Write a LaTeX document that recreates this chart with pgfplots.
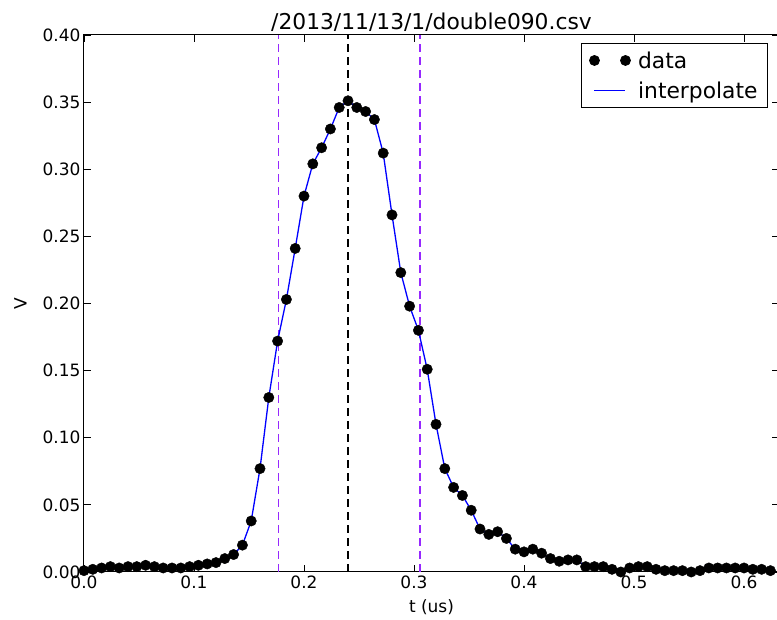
\documentclass[border=0pt]{standalone}
\usepackage{pgfplots}
\pgfplotsset{compat=1.18}
\usepackage{pgfplotstable}
\usepackage{fontspec}
\setmainfont{DejaVu Sans}
\definecolor{fwhm}{RGB}{150,40,255}
\newcommand{\bigf}{\fontsize{17}{20}\selectfont}
\newcommand{\largef}{\fontsize{21.8}{25}\selectfont}
\pgfplotstableread{
t V
0.000 0.001
0.008 0.002
0.016 0.003
0.024 0.004
0.032 0.003
0.040 0.004
0.048 0.004
0.056 0.005
0.064 0.004
0.072 0.003
0.080 0.003
0.088 0.003
0.096 0.004
0.104 0.005
0.112 0.006
0.120 0.007
0.128 0.010
0.136 0.013
0.144 0.020
0.152 0.038
0.160 0.077
0.168 0.130
0.176 0.172
0.184 0.203
0.192 0.241
0.200 0.280
0.208 0.304
0.216 0.316
0.224 0.330
0.232 0.346
0.240 0.351
0.248 0.346
0.256 0.343
0.264 0.337
0.272 0.312
0.280 0.266
0.288 0.223
0.296 0.198
0.304 0.180
0.312 0.151
0.320 0.110
0.328 0.077
0.336 0.063
0.344 0.057
0.352 0.046
0.360 0.032
0.368 0.028
0.376 0.030
0.384 0.025
0.392 0.017
0.400 0.015
0.408 0.017
0.416 0.014
0.424 0.010
0.432 0.008
0.440 0.009
0.448 0.009
0.456 0.004
0.464 0.004
0.472 0.004
0.480 0.002
0.488 0.000
0.496 0.003
0.504 0.004
0.512 0.004
0.520 0.002
0.528 0.001
0.536 0.001
0.544 0.001
0.552 0.000
0.560 0.001
0.568 0.003
0.576 0.003
0.584 0.003
0.592 0.003
0.600 0.003
0.608 0.002
0.616 0.002
0.624 0.001
}\datatable
\begin{document}
\begin{tikzpicture}
\begin{axis}[
  at={(0,0)}, anchor=south west,
  scale only axis, width=695pt, height=537pt,
  xmin=0, xmax=0.6318, ymin=0, ymax=0.4,
  font=\bigf,
  /pgf/number format/assume math mode=true,
  xtick={0,0.1,...,0.6},
  ytick={0,0.05,...,0.40},
  xticklabel style={font=\bigf, /pgf/number format/.cd, fixed, fixed zerofill, precision=1},
  yticklabel style={font=\bigf, /pgf/number format/.cd, fixed, fixed zerofill, precision=2},
  scaled ticks=false,
  tick align=inside,
  major tick length=7pt,
  tick style={black, line width=0.8pt},
  axis line style={line width=1pt},
  title={/2013/11/13/1/double090.csv},
  title style={font=\largef, yshift=-6pt},
  xlabel={t (us)},
  ylabel={V},
  label style={font=\bigf},
  xlabel style={yshift=-4pt},
  ylabel style={yshift=9pt},
  legend style={at={(rel axis cs:0.984,0.985)}, anchor=north east,
    draw=black, line width=0.8pt, font=\largef,
    nodes={font=\largef, inner ysep=2pt},
    row sep=8pt, inner xsep=8pt, inner ysep=6pt},
  legend cell align=left,
]
\addplot[fwhm, dash pattern=on 8pt off 5pt, line width=1.5pt, forget plot] coordinates {(0.177,0) (0.177,0.4)};
\addplot[black, dash pattern=on 8pt off 5pt, line width=1.5pt, forget plot] coordinates {(0.240,0) (0.240,0.4)};
\addplot[fwhm, dash pattern=on 8pt off 5pt, line width=1.5pt, forget plot] coordinates {(0.3055,0) (0.3055,0.4)};
\addplot[only marks, mark=*, mark size=5.2pt, black,
  legend image code/.code={\fill[black] (0pt,0) circle (5pt); \fill[black] (31pt,0) circle (5pt); \path (41pt,0);}]
  table[x=t, y=V] {\datatable};
\addlegendentry{data}
\addplot[blue, line width=1.3pt, no marks,
  legend image code/.code={\draw[blue, line width=1.2pt] (0pt,0) -- (31pt,0); \path (41pt,0);}]
  table[x=t, y=V] {\datatable};
\addlegendentry{interpolate}
\end{axis}
\pgfresetboundingbox
\path[use as bounding box] (-84pt,-48pt) rectangle (693pt,572pt);
\end{tikzpicture}
\end{document}
